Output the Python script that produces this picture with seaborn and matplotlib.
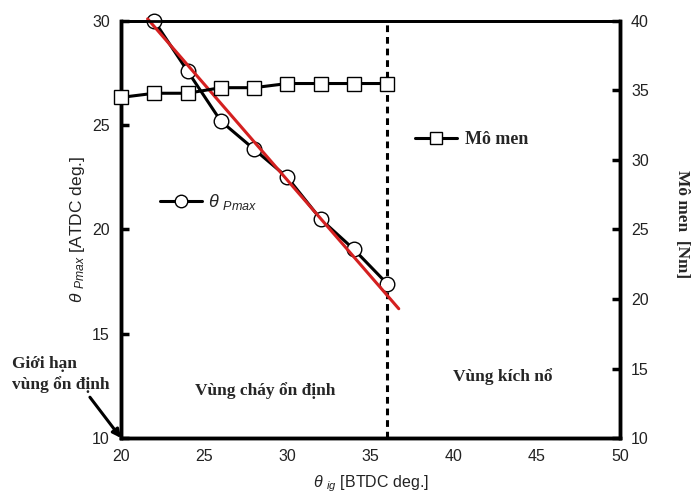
import matplotlib
matplotlib.use("Agg")
import matplotlib.pyplot as plt
import seaborn as sns
import pandas as pd
from matplotlib.lines import Line2D

# ---- data ----
ign_theta = [22, 24, 26, 28, 30, 32, 34, 36]
theta_pmax = [30.0, 27.6, 25.2, 23.85, 22.5, 20.5, 19.05, 17.4]
ign_torque = [20, 22, 24, 26, 28, 30, 32, 34, 36]
torque = [34.5, 34.8, 34.8, 35.2, 35.2, 35.5, 35.5, 35.5, 35.5]
fit_x = [21.6, 36.7]
fit_y = [30.1, 16.2]
knock_limit = 36

x_ticks = [20, 25, 30, 35, 40, 45, 50]
left_ticks = [10, 15, 20, 25, 30]
right_ticks = [10, 15, 20, 25, 30, 35, 40]

sns.set_style("white")
plt.rcParams['font.family'] = ['Liberation Sans', 'DejaVu Sans']
plt.rcParams['mathtext.fontset'] = 'custom'
plt.rcParams['mathtext.rm'] = 'Liberation Sans'
plt.rcParams['mathtext.it'] = 'Liberation Sans:italic'

serif = ['Liberation Serif', 'DejaVu Serif']
tick_color = "#222222"

fig = plt.figure(figsize=(6.97, 4.99), dpi=100)
ax = fig.add_axes([0.1736, 0.1222, 0.7159, 0.8358])
ax2 = ax.twinx()

df1 = pd.DataFrame({"x": ign_theta, "y": theta_pmax})
df2 = pd.DataFrame({"x": ign_torque, "y": torque})
dfit = pd.DataFrame({"x": fit_x, "y": fit_y})

sns.lineplot(data=df2, x="x", y="y", ax=ax2, color="black", lw=2.2,
             marker="s", markersize=10, markerfacecolor="white",
             markeredgecolor="black", markeredgewidth=1.0, clip_on=False, zorder=3)
sns.lineplot(data=df1, x="x", y="y", ax=ax, color="black", lw=2.2,
             marker="o", markersize=10.5, markerfacecolor="white",
             markeredgecolor="black", markeredgewidth=1.0, clip_on=False, zorder=3)
sns.lineplot(data=dfit, x="x", y="y", ax=ax, color="#d42020", lw=2.2,
             clip_on=False, zorder=4)
ax.axvline(knock_limit, color="black", lw=2.2, ls=(0, (2.2, 1.6)), zorder=2)

ax.set_xlim(20, 50)
ax.set_ylim(10, 30)
ax2.set_ylim(10, 40)
ax.set_xticks(x_ticks)
ax.set_yticks(left_ticks)
ax2.set_yticks(right_ticks)

for a in (ax, ax2):
    for s in a.spines.values():
        s.set_linewidth(2.5)
        s.set_color("black")
    a.spines['top'].set_linewidth(2.0)
ax.tick_params(axis='both', direction='in', length=6, width=2.5, labelsize=11.5,
               color='black', labelcolor=tick_color, pad=8)
ax2.tick_params(axis='y', direction='in', length=6, width=2.5, labelsize=11.5,
                color='black', labelcolor=tick_color, pad=8)
ax.tick_params(axis='y', left=True, right=False)
ax2.tick_params(axis='y', right=True)

ax.set_xlabel(r"$\theta$ $_{\mathit{ig}}$ [BTDC deg.]", fontsize=11.5,
              labelpad=7, color=tick_color)
ax.set_ylabel(r"$\theta$ $_{\mathit{Pmax}}$ [ATDC deg.]", fontsize=12.5,
              labelpad=4, color=tick_color)
ax2.set_ylabel("")
fig.text(0.978, 0.55, "Mô men  [Nm]", rotation=270, ha='center', va='center',
         fontsize=12.4, family=serif, fontweight='bold')

# legends
h1 = Line2D([], [], color="black", lw=2.2, marker="o", markersize=9,
            markerfacecolor="white", markeredgecolor="black")
h2 = Line2D([], [], color="black", lw=2.2, marker="s", markersize=8,
            markerfacecolor="white", markeredgecolor="black")
leg1 = ax.legend([h1], [r"$\theta$ $_{\mathit{Pmax}}$"], loc='center left',
                 bbox_to_anchor=(0.078, 0.566), frameon=False, handlelength=2.33,
                 fontsize=13, handletextpad=0.33, borderaxespad=0, borderpad=0)
ax.add_artist(leg1)
ax.legend([h2], ["Mô men"], loc='center left', bbox_to_anchor=(0.589, 0.715),
          frameon=False, handlelength=2.33, handletextpad=0.44,
          borderaxespad=0, borderpad=0,
          prop={'family': serif, 'weight': 'bold', 'size': 13})

ax.text(28.66, 12.3, "Vùng cháy ổn định", ha='center', va='center',
        fontsize=12.5, family=serif, fontweight='bold')
ax.text(42.97, 12.93, "Vùng kích nổ", ha='center', va='center',
        fontsize=12.5, family=serif, fontweight='bold')
fig.text(0.017, 0.25, "Giới hạn\nvùng ổn định", ha='left', va='center',
         multialignment='left', fontsize=12.5, family=serif,
         fontweight='bold', linespacing=1.35)
ax.annotate("", xy=(20, 10), xytext=(0.129, 0.204),
            textcoords='figure fraction', annotation_clip=False,
            arrowprops=dict(arrowstyle='-|>', color='black', lw=2.2,
                            shrinkA=0, shrinkB=0, mutation_scale=12))

fig.savefig("out.png", dpi=100, facecolor="white")
